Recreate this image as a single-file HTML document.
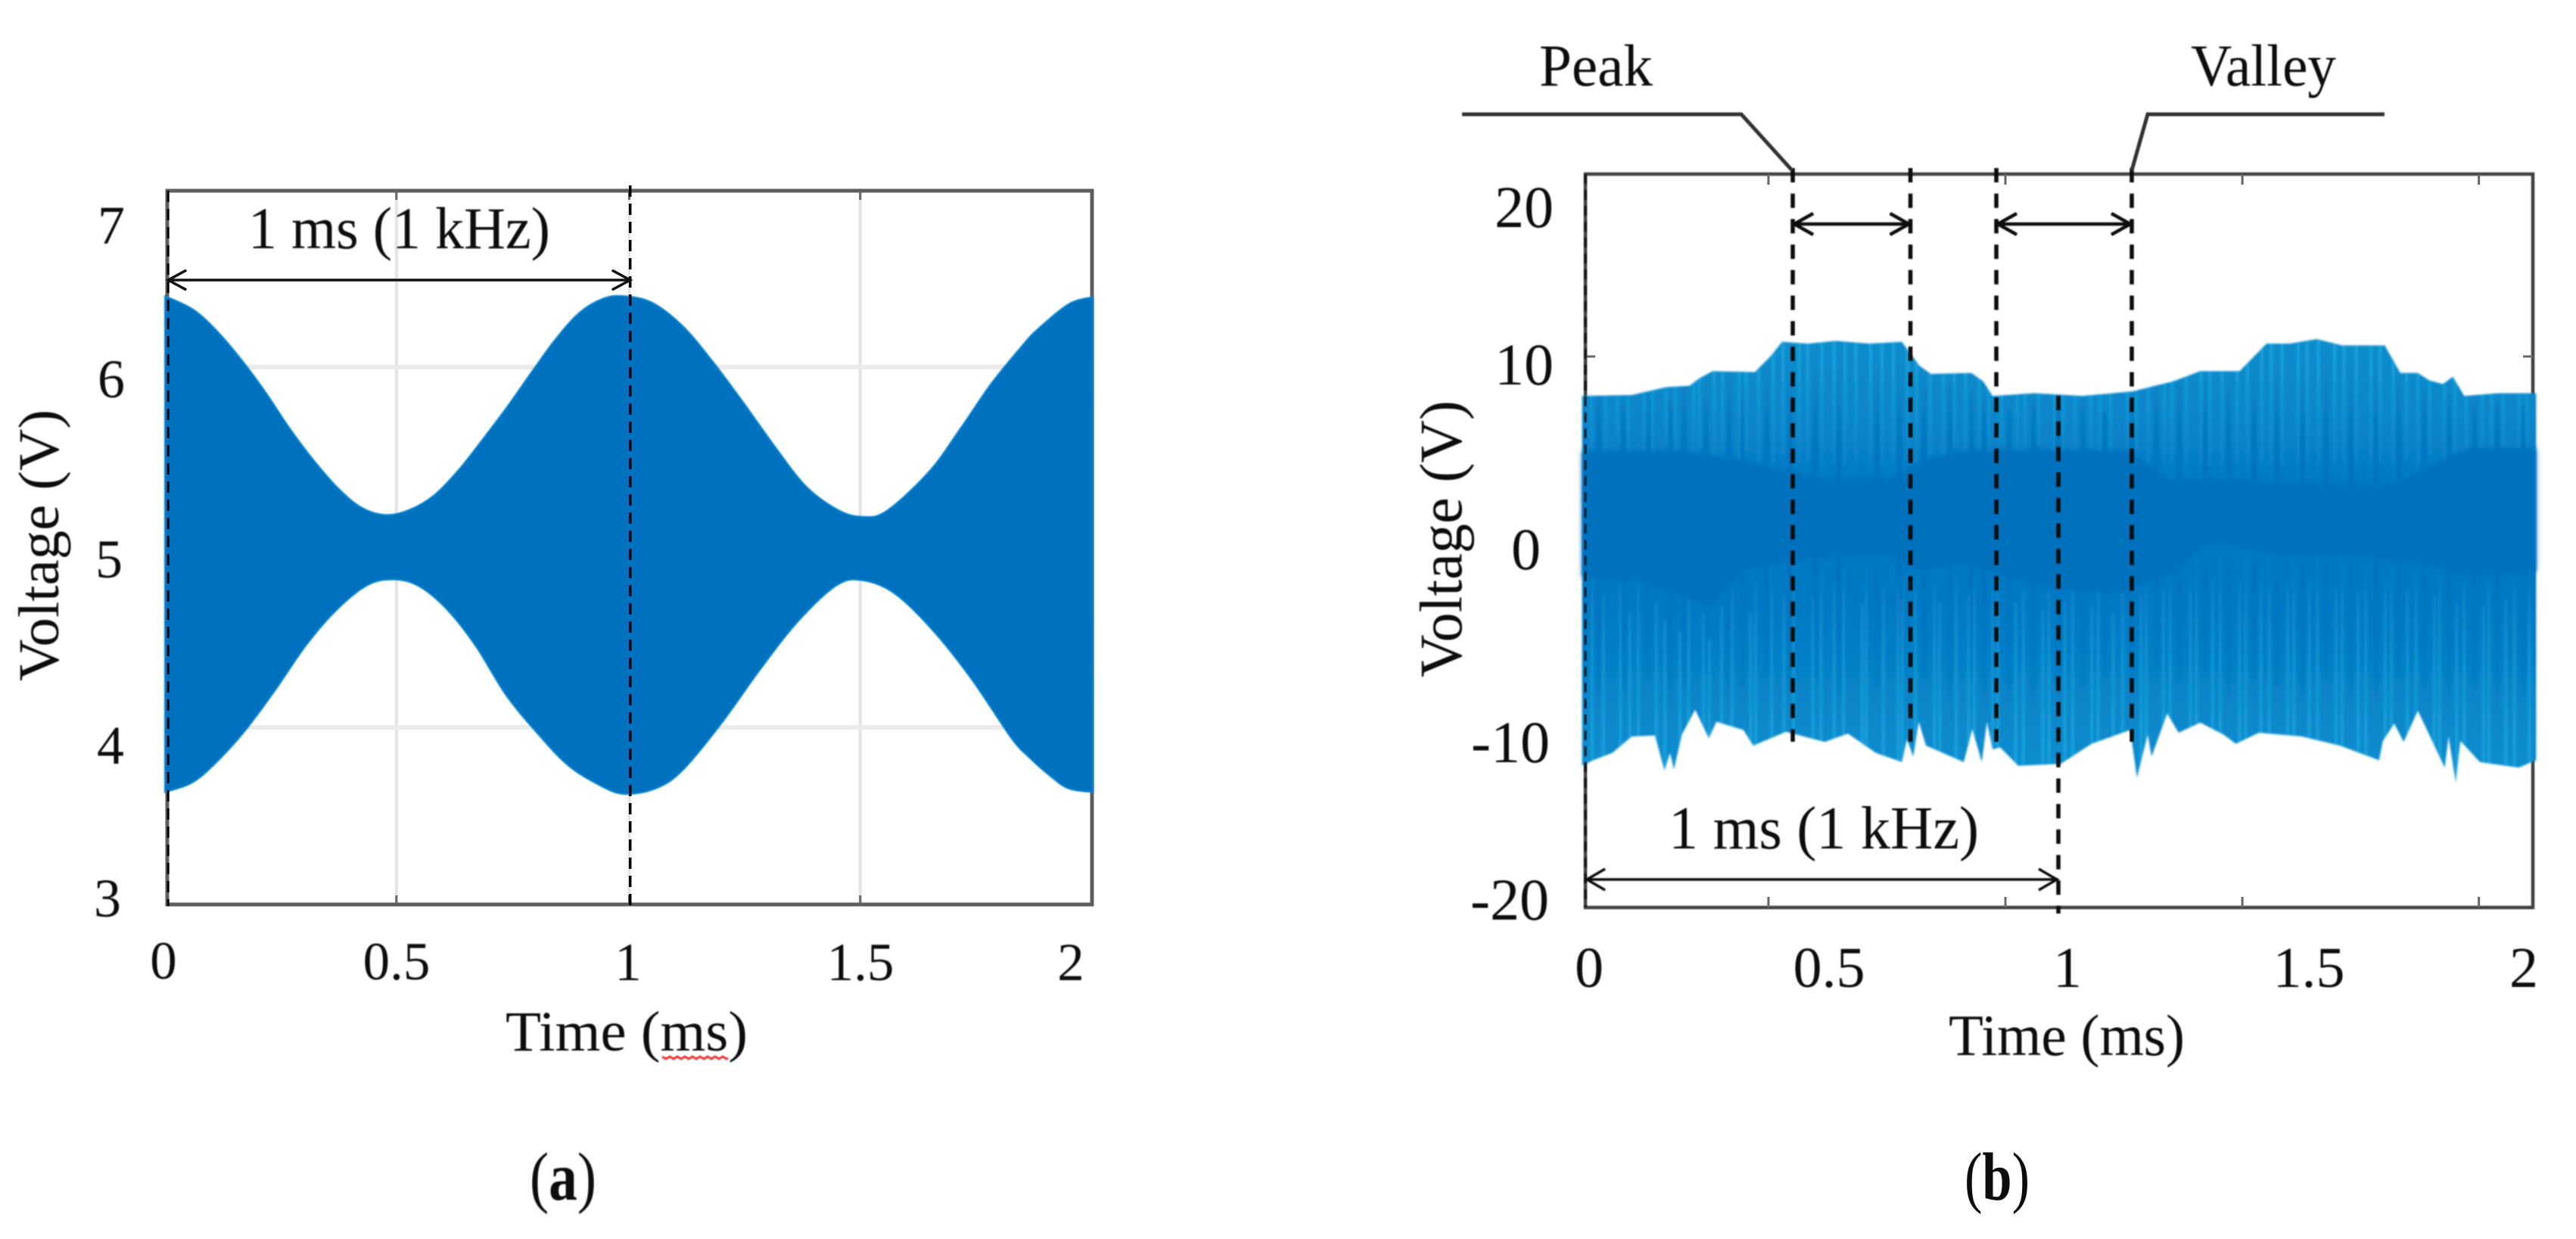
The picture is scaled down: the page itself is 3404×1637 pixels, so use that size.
<!DOCTYPE html>
<html lang="en">
<head>
<meta charset="utf-8">
<title>Voltage waveforms</title>
<style>
html,body{margin:0;padding:0;background:#fff;width:3404px;height:1637px;overflow:hidden}
svg{display:block}
text{font-family:"Liberation Serif","DejaVu Serif",serif;fill:#0c0c0c}
</style>
</head>
<body>
<svg id="figure" xmlns="http://www.w3.org/2000/svg" width="3404" height="1637" viewBox="0 0 3404 1637">
  <defs>
    <filter id="softA" x="-2%" y="-2%" width="104%" height="104%"><feGaussianBlur stdDeviation="0.7"/></filter>
    <filter id="softB" x="-2%" y="-2%" width="104%" height="104%"><feGaussianBlur stdDeviation="1.3"/></filter>
    <filter id="softBand" x="-2%" y="-5%" width="104%" height="110%"><feGaussianBlur stdDeviation="3.5"/></filter>
    <filter id="softText" x="-5%" y="-5%" width="110%" height="110%"><feGaussianBlur stdDeviation="0.7"/></filter>
    <linearGradient id="outerFill" x1="0" y1="0" x2="0" y2="1">
      <stop offset="0" stop-color="#0a8ccd"/>
      <stop offset="0.2" stop-color="#0884ca"/>
      <stop offset="0.33" stop-color="#0479c4"/>
      <stop offset="0.6" stop-color="#0479c4"/>
      <stop offset="0.8" stop-color="#0784c9"/>
      <stop offset="1" stop-color="#0a8fd0"/>
    </linearGradient>
    <linearGradient id="lightUp" gradientUnits="userSpaceOnUse" x1="0" x2="0" y1="471" y2="616">
      <stop offset="0" stop-color="#16a2dc" stop-opacity=".85"/>
      <stop offset="1" stop-color="#16a2dc" stop-opacity=".08"/>
    </linearGradient>
    <linearGradient id="lightLow" gradientUnits="userSpaceOnUse" x1="0" x2="0" y1="980" y2="762">
      <stop offset="0" stop-color="#16a2dc" stop-opacity=".85"/>
      <stop offset="1" stop-color="#16a2dc" stop-opacity=".08"/>
    </linearGradient>
    <linearGradient id="darkUp" gradientUnits="userSpaceOnUse" x1="0" x2="0" y1="616" y2="480">
      <stop offset="0" stop-color="#0472bf" stop-opacity=".9"/>
      <stop offset="1" stop-color="#0472bf" stop-opacity="0"/>
    </linearGradient>
    <linearGradient id="darkLow" gradientUnits="userSpaceOnUse" x1="0" x2="0" y1="762" y2="960">
      <stop offset="0" stop-color="#0472bf" stop-opacity=".9"/>
      <stop offset="1" stop-color="#0472bf" stop-opacity="0"/>
    </linearGradient>
    <clipPath id="outerClip"><path id="outerClipPath" d=""/></clipPath>
  </defs>

  <g id="panelA"></g>
  <g id="panelB"></g>

  <g id="textA" filter="url(#softText)">
    <text x="165" y="322" font-size="72" text-anchor="end">7</text>
    <text x="165" y="525" font-size="72" text-anchor="end">6</text>
    <text x="162" y="763" font-size="72" text-anchor="end">5</text>
    <text x="164" y="1009" font-size="72" text-anchor="end">4</text>
    <text x="160" y="1211" font-size="72" text-anchor="end">3</text>
    <text x="216" y="1293" font-size="71" text-anchor="middle">0</text>
    <text x="524" y="1294" font-size="71" text-anchor="middle">0.5</text>
    <text x="830" y="1295" font-size="71" text-anchor="middle">1</text>
    <text x="1137" y="1295" font-size="71" text-anchor="middle">1.5</text>
    <text x="1415" y="1295" font-size="71" text-anchor="middle">2</text>
    <text x="668" y="1388" font-size="75" textLength="320" lengthAdjust="spacingAndGlyphs">Time (ms)</text>
    <text transform="translate(77,900) rotate(-90)" font-size="76" textLength="359" lengthAdjust="spacingAndGlyphs">Voltage (V)</text>
    <text x="328" y="328" font-size="78" textLength="399" lengthAdjust="spacingAndGlyphs">1 ms (1 kHz)</text>
    <path fill="none" stroke="#f43030" stroke-width="3" d="M875 1396l5 3 5-3 5 3 5-3 5 3 5-3 5 3 5-3 5 3 5-3 5 3 5-3 5 3 5-3 5 3 5-3 5 3 2-1"/>
    <text x="700" y="1585" font-size="90" textLength="88" lengthAdjust="spacingAndGlyphs">(<tspan font-weight="bold">a</tspan>)</text>
  </g>

  <g id="textB" filter="url(#softText)">
    <text x="2034" y="113" font-size="78" textLength="150" lengthAdjust="spacingAndGlyphs">Peak</text>
    <text x="2895" y="113" font-size="78" textLength="192" lengthAdjust="spacingAndGlyphs">Valley</text>
    <text x="2053" y="300" font-size="78" text-anchor="end">20</text>
    <text x="2053" y="508" font-size="78" text-anchor="end">10</text>
    <text x="2036" y="752" font-size="78" text-anchor="end">0</text>
    <text x="2048" y="1007" font-size="78" text-anchor="end">-10</text>
    <text x="2047" y="1215" font-size="78" text-anchor="end">-20</text>
    <text x="2100" y="1304" font-size="76" text-anchor="middle">0</text>
    <text x="2417" y="1304" font-size="76" text-anchor="middle">0.5</text>
    <text x="2732" y="1304" font-size="76" text-anchor="middle">1</text>
    <text x="3051" y="1304" font-size="76" text-anchor="middle">1.5</text>
    <text x="3335" y="1304" font-size="76" text-anchor="middle">2</text>
    <text x="2575" y="1394" font-size="77" textLength="312" lengthAdjust="spacingAndGlyphs">Time (ms)</text>
    <text transform="translate(1931,895) rotate(-90)" font-size="79" textLength="366" lengthAdjust="spacingAndGlyphs">Voltage (V)</text>
    <text x="2205" y="1121" font-size="80" textLength="410" lengthAdjust="spacingAndGlyphs">1 ms (1 kHz)</text>
  </g>
  <text x="2596" y="1585" font-size="90" textLength="86" lengthAdjust="spacingAndGlyphs">(<tspan font-weight="bold">b</tspan>)</text>
</svg>

<script>
// ---- Panel (a) data: envelope of the modulated carrier (time in ms, voltage in V)
const aUpperTime = [-0.005,.056,.108,.161,.213,.265,.318,.369,.421,.474,.526,.578,.631,.683,.736,.788,.839,.891,.943,.986,1.048,1.115,1.181,1.248,1.315,1.382,1.45,1.502,1.556,1.649,1.717,1.784,1.851,1.884,1.951,2.004];
const aUpperVolt = [6.395,6.32,6.20,6.04,5.86,5.66,5.48,5.33,5.22,5.18,5.21,5.29,5.43,5.60,5.78,5.97,6.15,6.30,6.38,6.395,6.36,6.23,6.03,5.80,5.56,5.34,5.21,5.17,5.20,5.42,5.66,5.91,6.12,6.21,6.35,6.39];
const aLowerTime = [-0.005,.052,.1,.165,.232,.299,.366,.434,.493,.547,.607,.668,.733,.8,.867,.935,.988,1.057,1.115,1.199,1.283,1.366,1.45,1.507,1.576,1.66,1.743,1.827,1.867,1.911,1.951,2.004];
const aLowerVolt = [3.64,3.69,3.79,3.97,4.20,4.45,4.65,4.79,4.82,4.78,4.65,4.45,4.18,3.97,3.79,3.68,3.63,3.66,3.76,4.02,4.32,4.59,4.79,4.815,4.74,4.53,4.26,3.94,3.83,3.73,3.66,3.64];
const aGridTimes = [0.496,1,1.5];
const aGridVolts = [4,5,6];
const aSpan = [0.002,1.002];
const aOriginMarker = [0.002];
const aPeriodMarker = [1.002];

// ---- Panel (b) data
const bUpperTime = [-0.007,.098,.171,.22,.24,.269,.358,.391,.416,.47,.53,.6,.669,.706,.73,.816,.841,.861,.95,1.05,1.157,1.243,1.30,1.383,1.44,1.49,1.546,1.6,1.69,1.723,1.76,1.784,1.813,1.834,1.858,1.93,2.01];
const bUpperVolt = [7.85,7.9,8.33,8.4,8.8,9.2,9.15,10,10.8,10.7,10.85,10.7,10.8,9.5,9.05,9.1,8.65,7.85,8,7.85,8.1,8.65,9.2,9.2,10.7,10.7,10.95,10.6,10.6,9.1,9.1,8.7,8.5,8.9,7.85,8,8];
const bLowerTime = [-0.007,.016,.057,.098,.147,.167,.179,.187,.204,.232,.261,.277,.334,.355,.424,.506,.555,.614,.669,.68,.693,.705,.72,.8,.818,.838,.849,.861,.877,.915,1.005,1.07,1.152,1.166,1.189,1.197,1.23,1.254,1.30,1.349,1.375,1.424,1.514,1.595,1.678,1.686,1.71,1.73,1.76,1.817,1.825,1.84,1.85,1.891,1.973,2.01];
const bLowerVolt = [-12.3,-12,-11.6,-10.7,-10.65,-12.55,-11.6,-12.5,-10.6,-9.25,-10.8,-9.9,-10.35,-11.2,-10.45,-11,-10.55,-11.6,-12.1,-10.85,-11.8,-9.9,-11.2,-12.1,-10.3,-12.1,-9.9,-11.4,-11.3,-12.3,-12.2,-11.1,-10.35,-12.95,-10.6,-11.8,-9.45,-10.5,-9.95,-10.6,-11.1,-10.5,-10.7,-11.2,-12,-10.95,-10,-11,-9.3,-12.4,-10.7,-13.2,-10.95,-12.1,-12.4,-12];
const bBandUpperTime = [-0.007,.2,.3,.42,.5,.65,.72,.81,1.15,1.23,1.34,1.5,1.7,1.78,1.87,2.01];
const bBandUpperVolt = [4.85,4.85,4.5,3.8,3.4,3.4,4.4,4.9,4.9,3.3,3.3,3.1,3,4,5,5];
const bBandLowerTime = [-0.007,.1,.2,.27,.33,.45,.55,.65,.7,.81,.97,1.13,1.24,1.32,1.47,1.62,1.78,1.87,2.01];
const bBandLowerVolt = [-2,-2.2,-3,-3.6,-1.6,-1.1,-0.9,-0.9,-1.6,-1.3,-2.6,-2.9,-1.8,-0.1,-0.8,-0.8,-1.3,-2,-1.7];
const bUpStreakTime = [.012,.043,.068,.09,.125,.142,.171,.19,.229,.241,.272,.29,.325,.34,.366,.397,.418,.452,.47,.5,.526,.549,.572,.603,.627,.651,.681,.70,.729,.757,.78,.804,.833,.853,.88,.913,.93,.958,.991,1.01,1.035,1.068,1.088,1.11,1.146,1.165,1.19,1.224,1.24,1.27,1.302,1.32,1.346,1.378,1.40,1.43,1.45,1.473,1.507,1.526,1.55,1.584,1.604,1.63,1.661,1.68,1.708,1.736,1.76,1.785,1.816,1.838,1.862,1.896,1.916,1.94,1.974,1.99];
const bUpStreakBase = [6,5.2,6.4,5,5.8,5.2,6.2,4.8,5.4,6,4.6,5.6,4.9,5.8,5,4.4,5.6,3.6,4.8,3.6,5.2,3.4,4.6,3.8,5,3.6,5.2,4.4,5.6,5,6,5.2,5.8,5.4,6.2,5,5.6,6.2,5.2,5.8,5,6,5.4,4.6,5.6,4.4,3.8,5.2,3.6,4.4,3.6,5,3.4,4.8,3.4,4.6,3.6,5,3.4,4.6,3.2,5,3.6,4.8,3.8,5.2,4,5.4,4.6,5.6,5,5.8,5.4,6,5.2,6.2,5.6,6];
const bLowStreakTime = [.014,.038,.074,.094,.112,.15,.168,.2,.218,.25,.262,.288,.31,.349,.36,.394,.42,.44,.481,.498,.526,.546,.585,.594,.63,.661,.67,.698,.738,.749,.784,.81,.822,.861,.872,.91,.926,.967,.98,1.014,1.03,1.071,1.084,1.116,1.136,1.175,1.186,1.222,1.236,1.279,1.292,1.326,1.342,1.383,1.396,1.428,1.446,1.485,1.498,1.53,1.548,1.587,1.6,1.634,1.65,1.691,1.704,1.738,1.756,1.795,1.806,1.842,1.858,1.899,1.91,1.946,1.964,1.996];
const bLowStreakEnd = [-3,-4,-3.4,-5,-3,-4.4,-5.4,-6,-4.2,-5,-6.4,-4.6,-3.6,-5,-3.4,-2.6,-4,-2.8,-4,-2.4,-3.4,-2.6,-4.4,-2.4,-3.6,-3,-4.2,-2.6,-3.4,-4.4,-3,-4,-3,-3.4,-2.6,-4.4,-3.6,-4.8,-3.4,-4.4,-3,-4.6,-3.2,-5,-3.4,-4,-2.8,-3.6,-2.6,-3.4,-1.8,-3,-2,-3.2,-1.6,-3,-1.8,-3.4,-2,-3.2,-2,-3.6,-2.2,-3.8,-2.4,-3.2,-2.4,-3.6,-2.6,-4,-2.8,-4.4,-3,-4.6,-3,-4.2,-3,-3.6];
const bDarkTime = [.028,.081,.132,.18,.209,.255,.304,.332,.383,.432,.486,.536,.617,.664,.716,.771,.816,.843,.896,.948,1.0,1.052,1.098,1.155,1.207,1.256,1.31,1.36,1.414,1.462,1.516,1.566,1.618,1.672,1.72,1.774,1.826,1.88,1.928,1.984];
const bDarkUpTop = [8.2,7.4,8,7.6,8.6,7.8,9,8.4,9.4,9.8,9.2,10,9.6,9.4,8.4,8.6,8.2,7.6,7.2,7.6,7.2,7.4,7,7.8,8.2,8.6,9,8.4,9.4,9.8,9.6,10,9.4,9.6,8.6,8.2,8,7.4,7.6,7.4];
const bDarkLowEnd = [-9,-8.4,-7.6,-9.6,-8.2,-7.4,-8.6,-8,-7.4,-8.2,-7.6,-8.6,-8,-9.2,-7.4,-8.8,-7.6,-9,-8.4,-9.2,-8.6,-8,-7.4,-8.6,-7,-7.8,-7.2,-8.4,-7.6,-8,-8.4,-7.6,-9,-8.6,-7.4,-8.2,-9,-8,-9.4,-8.6];
const bTopTickTimes = [.387,.888,1.389,1.889];
const bSideTickVolts = [10,-10];
const bLongDashTimes = [.4384,.6872,.8688,1.1552];
const bPeriodDashTime = [1];
const bSpans = [[.4384,.6872],[.8688,1.1552]];
const bPeriodSpan = [0,1];

// ---- Axis functions
const xA = t => 221 + 610.5 * t;
const yA = v => 723 - 238 * (v - 5);
const xB = t => 2095 + 625 * t;
const yB = v => 713.5 - 24.25 * v;

const NS = 'http://www.w3.org/2000/svg';
const panelA = document.getElementById('panelA');
const panelB = document.getElementById('panelB');

function make(parent, tag, attrs) {
  const el = document.createElementNS(NS, tag);
  for (const k in attrs) el.setAttribute(k, attrs[k]);
  parent.appendChild(el);
  return el;
}
function pts(times, volts, fx, fy) {
  return times.map((t, i) => [fx(t), fy(volts[i])]);
}
function smooth(p) {
  let d = '';
  for (let i = 0; i < p.length - 1; i++) {
    const p0 = p[Math.max(i - 1, 0)], p1 = p[i], p2 = p[i + 1], p3 = p[Math.min(i + 2, p.length - 1)];
    const c1x = p1[0] + (p2[0] - p0[0]) / 6, c1y = p1[1] + (p2[1] - p0[1]) / 6;
    const c2x = p2[0] - (p3[0] - p1[0]) / 6, c2y = p2[1] - (p3[1] - p1[1]) / 6;
    d += 'C' + c1x.toFixed(1) + ' ' + c1y.toFixed(1) + ' ' + c2x.toFixed(1) + ' ' + c2y.toFixed(1) + ' ' + p2[0].toFixed(1) + ' ' + p2[1].toFixed(1);
  }
  return d;
}
function poly(p) {
  return p.map(q => q[0].toFixed(1) + ' ' + q[1].toFixed(1)).join('L');
}
function arrowHead(parent, x, y, dir, dx, dy, w) {
  const h = make(parent, 'path', {d: 'M' + (x + dir * dx) + ' ' + (y - dy) + 'L' + x + ' ' + y + 'L' + (x + dir * dx) + ' ' + (y + dy), fill: 'none', stroke: '#111', 'stroke-width': w});
  
  
}

// ---- Panel (a)
aGridTimes.forEach(t => {
  const g = make(panelA, 'line', {x1: xA(t), x2: xA(t), y1: 252, y2: 1195, stroke: '#e4e4e4', 'stroke-width': 4});
  
  
});
aGridVolts.forEach(v => {
  const g = make(panelA, 'line', {x1: 221, x2: 1442, y1: yA(v), y2: yA(v), stroke: '#ebebeb', 'stroke-width': 6});
  
  
});
const frameA = make(panelA, 'path', {d: 'M221 252H1443V1195H221Z', fill: 'none', stroke: '#5e5e5e', 'stroke-width': 5});


aGridTimes.forEach(t => {
  const m = make(panelA, 'path', {d: 'M' + xA(t) + ' 252v12M' + xA(t) + ' 1195v-12', stroke: '#666', 'stroke-width': 3});
  
  
});

const au = pts(aUpperTime, aUpperVolt, xA, yA);
const al = pts(aLowerTime, aLowerVolt, xA, yA).reverse();
const areaA = make(panelA, 'path', {
  d: 'M' + au[0].join(' ') + smooth(au) + 'L' + al[0].join(' ') + smooth(al) + 'Z',
  fill: '#0071be', stroke: '#1187d0', 'stroke-width': 2, filter: 'url(#softA)'
});



aOriginMarker.forEach(t => {
  const d = make(panelA, 'line', {x1: xA(t), x2: xA(t), y1: 252, y2: 1197, stroke: '#000', 'stroke-width': 3, 'stroke-dasharray': '15 9'});
  
  
});
aPeriodMarker.forEach(t => {
  const d = make(panelA, 'line', {x1: xA(t), x2: xA(t), y1: 245, y2: 1197, stroke: '#000', 'stroke-width': 3.5, 'stroke-dasharray': '15 9'});
  
  
});
const spanA = make(panelA, 'line', {x1: xA(aSpan[0]), x2: xA(aSpan[1]), y1: 370, y2: 370, stroke: '#111', 'stroke-width': 3.5});


arrowHead(panelA, xA(aSpan[0]), 370, 1, 24, 13, 3.5);
arrowHead(panelA, xA(aSpan[1]), 370, -1, 24, 13, 3.5);

// ---- Panel (b)
const frameB = make(panelB, 'path', {d: 'M2095 230H3347V1199H2095Z', fill: 'none', stroke: '#404040', 'stroke-width': 4.5, filter: 'url(#softA)'});


bTopTickTimes.forEach(t => {
  const m = make(panelB, 'path', {d: 'M' + xB(t) + ' 230v14M' + xB(t) + ' 1199v-14', stroke: '#666', 'stroke-width': 3});
  
  
});
bSideTickVolts.forEach(v => {
  const m = make(panelB, 'path', {d: 'M2095 ' + yB(v) + 'h13M3347 ' + yB(v) + 'h-13', stroke: '#666', 'stroke-width': 3});
  
  
});

const wave = make(panelB, 'g', {filter: 'url(#softB)'});


const bu = pts(bUpperTime, bUpperVolt, xB, yB);
const bl = pts(bLowerTime, bLowerVolt, xB, yB).reverse();
const outerD = 'M' + poly(bu) + 'L' + poly(bl) + 'Z';
document.getElementById('outerClipPath').setAttribute('d', outerD);
const outer = make(wave, 'path', {d: outerD, fill: 'url(#outerFill)'});


const streaks = make(wave, 'g', {'clip-path': 'url(#outerClip)'});


bDarkTime.forEach((t, i) => {
  const up = make(streaks, 'line', {x1: xB(t), x2: xB(t), y1: yB(3), y2: yB(bDarkUpTop[i]), stroke: 'url(#darkUp)', 'stroke-width': 7});
  
  
  const low = make(streaks, 'line', {x1: xB(t), x2: xB(t), y1: yB(-1), y2: yB(bDarkLowEnd[i]), stroke: 'url(#darkLow)', 'stroke-width': 7});
  
  
});
bUpStreakTime.forEach((t, i) => {
  const s = make(streaks, 'line', {x1: xB(t), x2: xB(t), y1: yB(bUpStreakBase[i] - 1), y2: yB(14), stroke: 'url(#lightUp)', 'stroke-width': 4.5});
  
  
});
bLowStreakTime.forEach((t, i) => {
  const s = make(streaks, 'line', {x1: xB(t), x2: xB(t), y1: yB(bLowStreakEnd[i] + 1), y2: yB(-15), stroke: 'url(#lightLow)', 'stroke-width': 4.5});
  
  
});
const bbu = pts(bBandUpperTime, bBandUpperVolt, xB, yB);
const bbl = pts(bBandLowerTime, bBandLowerVolt, xB, yB).reverse();
const band = make(panelB, 'path', {d: 'M' + poly(bbu) + 'L' + poly(bbl) + 'Z', fill: '#0071bd', filter: 'url(#softBand)'});



const ann = make(panelB, 'g', {filter: 'url(#softA)'});


bLongDashTimes.forEach(t => {
  const d = make(ann, 'line', {x1: xB(t), x2: xB(t), y1: 222, y2: 980, stroke: '#0a0a0a', 'stroke-width': 5.5, 'stroke-dasharray': '19 14.7'});
  
  
});
bPeriodDashTime.forEach(t => {
  const d = make(ann, 'line', {x1: xB(t), x2: xB(t), y1: 523, y2: 1207, stroke: '#0a0a0a', 'stroke-width': 5.5, 'stroke-dasharray': '19 14.7'});
  
  
});
const zeroDash = make(ann, 'line', {x1: xB(0), x2: xB(0), y1: 230, y2: 1199, stroke: '#0a0a0a', 'stroke-width': 2.5, 'stroke-dasharray': '13 8'});


bSpans.forEach(s => {
  const l = make(ann, 'line', {x1: xB(s[0]), x2: xB(s[1]), y1: 296, y2: 296, stroke: '#111', 'stroke-width': 4.5});
  
  
  arrowHead(ann, xB(s[0]) + 2, 296, 1, 25, 14, 4.5);
  arrowHead(ann, xB(s[1]) - 2, 296, -1, 25, 14, 4.5);
});
const spanB = make(ann, 'line', {x1: xB(bPeriodSpan[0]), x2: xB(bPeriodSpan[1]), y1: 1162, y2: 1162, stroke: '#111', 'stroke-width': 3.5});


arrowHead(ann, xB(bPeriodSpan[0]) + 2, 1162, 1, 24, 14, 3.5);
arrowHead(ann, xB(bPeriodSpan[1]) - 2, 1162, -1, 24, 14, 3.5);

const peakLeader = make(ann, 'path', {d: 'M1932 151H2301L2368 225', fill: 'none', stroke: '#333', 'stroke-width': 5});


const valleyLeader = make(ann, 'path', {d: 'M3151 151H2838L2817 225', fill: 'none', stroke: '#333', 'stroke-width': 5});


</script>
</body>
</html>
